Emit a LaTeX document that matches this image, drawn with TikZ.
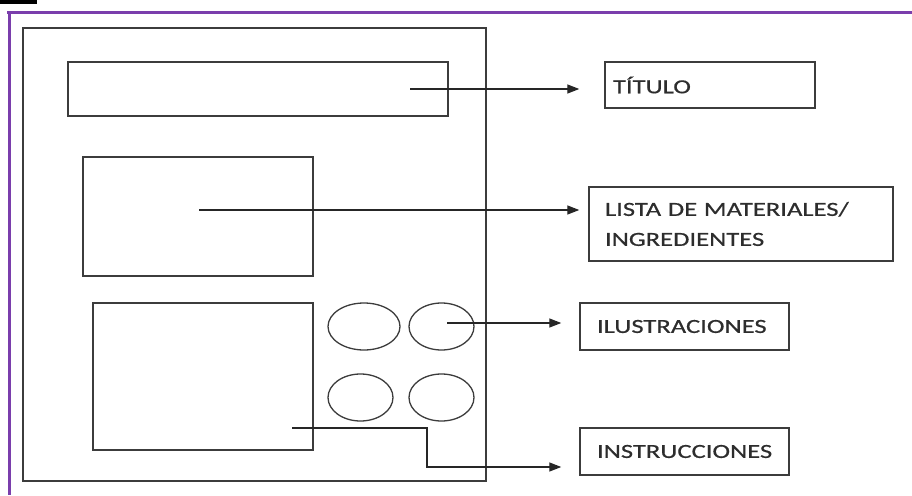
\documentclass[tikz,border=0pt]{standalone}
\usepackage{fontspec}
\setmainfont{Carlito}[FakeStretch=1.33,FakeBold=0.6]
\usetikzlibrary{arrows.meta,shapes.geometric}
\definecolor{frameline}{RGB}{60,60,60}
\definecolor{purpleline}{RGB}{122,62,172}
\definecolor{txt}{RGB}{45,45,45}
\tikzset{
  px/.style={x=1pt,y=-1pt},
  plainbox/.style={draw=frameline,line width=1.4pt,rectangle,inner sep=0pt},
  labelbox/.style={draw=frameline,line width=1.4pt,rectangle,align=left,
    font=\fontsize{20}{30}\selectfont,text=txt,anchor=center},
  oval/.style={draw=frameline,line width=1.3pt,ellipse,inner sep=0pt},
  conn/.style={draw=black!85,line width=1.3pt,-{Triangle[length=12pt,width=9pt]}},
}
\begin{document}
\begin{tikzpicture}[px]
\useasboundingbox (0,0) rectangle (912,495);
% page decoration
\fill[black] (0,0) rectangle (37,4);
\draw[purpleline,line width=3pt] (7,13) -- (912,13);
\draw[purpleline,line width=3pt] (9.5,11) -- (9.5,495);
% left layout
\node[plainbox,minimum width=463pt,minimum height=453pt] (page) at (254.5,254.5) {};
\node[plainbox,minimum width=380pt,minimum height=54pt] (titlearea) at (258,89) {};
\node[plainbox,minimum width=230pt,minimum height=119pt] (listarea) at (198,216.5) {};
\node[plainbox,minimum width=220pt,minimum height=147pt] (instrarea) at (203,376.5) {};
\node[oval,minimum width=72pt,minimum height=47pt] (ov1) at (364,326.5) {};
\node[oval,minimum width=65pt,minimum height=47pt] (ov2) at (441.5,326.5) {};
\node[oval,minimum width=65pt,minimum height=47pt] (ov3) at (360.5,397.5) {};
\node[oval,minimum width=65pt,minimum height=47pt] (ov4) at (441.5,397.5) {};
% label boxes
\node[labelbox,minimum width=210pt,minimum height=46pt,text width=194pt,inner xsep=8pt] (titulo) at (710,85) {TÍTULO};
\node[labelbox,minimum width=304pt,minimum height=74pt,text width=272pt,inner xsep=16pt] (lista) at (741,224) {LISTA DE MATERIALES/\\INGREDIENTES};
\node[labelbox,minimum width=209pt,minimum height=47pt,text width=175pt,inner xsep=17pt] (ilus) at (684.5,326.5) {ILUSTRACIONES};
\node[labelbox,minimum width=209pt,minimum height=47pt,text width=175pt,inner xsep=17pt] (instr) at (684.5,451.5) {INSTRUCCIONES};
% connector starts
\coordinate (s1) at (410,89);
\coordinate (s2) at (199,210);
\coordinate (s3) at (447,323);
\coordinate (s4) at (292,428);
\coordinate (bend) at (427,467);
% connectors
\draw[conn,shorten >=25pt] (s1) -- (s1 -| titulo.west);
\draw[conn,shorten >=9pt] (s2) -- (s2 -| lista.west);
\draw[conn,shorten >=18pt] (s3) -- (s3 -| ilus.west);
\draw[conn,shorten >=18pt] (s4) -| (bend) -- (bend -| instr.west);
\end{tikzpicture}
\end{document}
